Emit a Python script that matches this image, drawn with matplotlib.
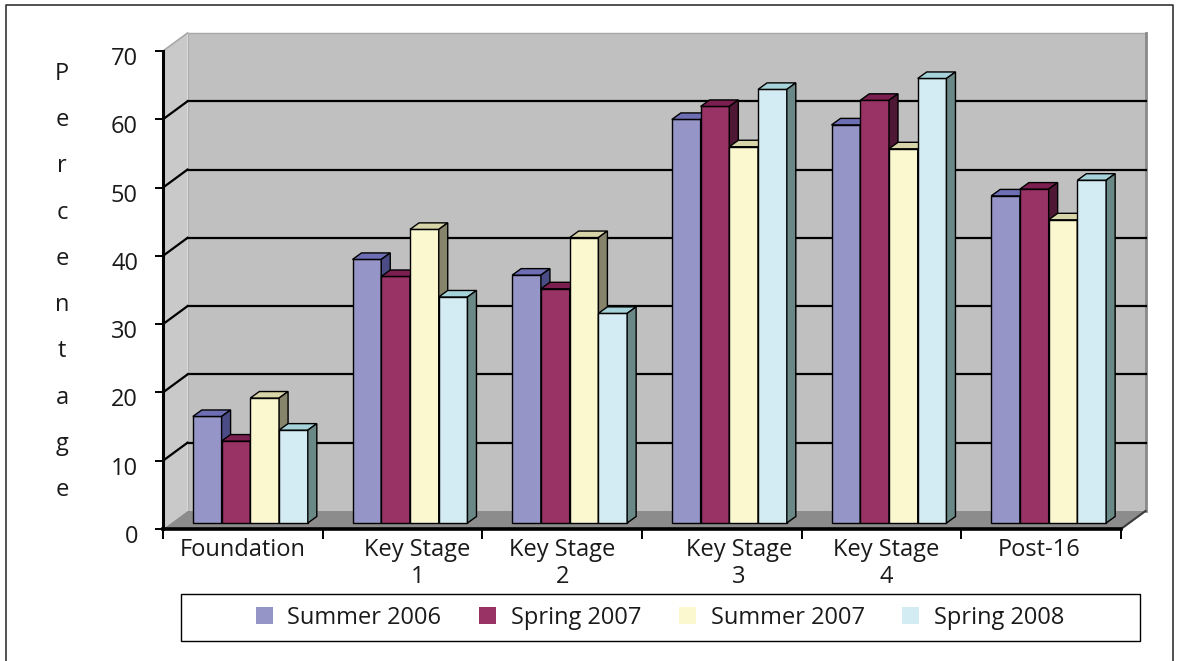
import matplotlib
matplotlib.use("Agg")
import matplotlib.pyplot as plt
from matplotlib.patches import Polygon, Rectangle, Patch
from matplotlib.lines import Line2D
from matplotlib.transforms import Affine2D, IdentityTransform

# ---------------- data ----------------
categories = ["Foundation", "Key Stage\n1", "Key Stage\n2", "Key Stage\n3", "Key Stage\n4", "Post-16"]
series_names = ["Summer 2006", "Spring 2007", "Summer 2007", "Spring 2008"]
summer_2006 = [15.6, 38.6, 36.3, 59.1, 58.3, 47.9]
spring_2007 = [12.0, 36.1, 34.3, 61.0, 61.9, 48.9]
summer_2007 = [18.3, 43.0, 41.8, 55.1, 54.8, 44.4]
spring_2008 = [13.6, 33.1, 30.7, 63.5, 65.1, 50.2]
y_ticks = [0, 10, 20, 30, 40, 50, 60, 70]
y_label = "Percentage"

series_values = [summer_2006, spring_2007, summer_2007, spring_2008]

# ---------------- style ----------------
front_colors = ["#9595C8", "#993366", "#FBF8D0", "#D3ECF3"]
top_colors = ["#6E6EB4", "#7A1F4F", "#D8D5A8", "#A6D3D9"]
side_colors = ["#4B4B85", "#4E1733", "#86846A", "#6A8886"]
FONT = "Open Sans"
FS = 17

W, H = 1178, 661
fig = plt.figure(figsize=(W / 100, H / 100), dpi=100)
ax = fig.add_axes([163 / W, 1 - 529 / H, (1121 - 163) / W, (529 - 51) / H])
ax.set_xlim(-0.5, len(categories) - 0.5)
ax.set_ylim(y_ticks[0], y_ticks[-1])
ax.patch.set_visible(False)
for s in ["top", "right"]:
    ax.spines[s].set_visible(False)
ax.spines["left"].set_linewidth(2.2)
ax.spines["bottom"].set_linewidth(2.6)
ax.spines["left"].set_zorder(6)
ax.spines["bottom"].set_zorder(6)

DEPTH = (24.5, 18.0)      # full depth offset (display px)
BAR_FRONT = (7.5, 6.0)    # bar front plane offset
BAR_BACK = (16.5, 12.5)   # bar back plane offset
x0, x1 = ax.get_xlim()
y0, y1 = ax.get_ylim()


def P(x, y, off=(0, 0)):
    X, Y = ax.transData.transform((x, y))
    return (X + off[0], Y + off[1])


def poly(pts, fc, ec="none", lw=0.0, z=1):
    p = Polygon(pts, closed=True, facecolor=fc, edgecolor=ec, linewidth=lw,
                transform=IdentityTransform(), zorder=z, clip_on=False)
    ax.add_artist(p)
    return p


def seg(a, b, color="black", lw=1.0, z=1):
    ln = Line2D([a[0], b[0]], [a[1], b[1]], color=color, linewidth=lw,
                transform=IdentityTransform(), zorder=z, clip_on=False)
    ax.add_artist(ln)


# walls
poly([P(x0, y0, DEPTH), P(x1, y0, DEPTH), P(x1, y1, DEPTH), P(x0, y1, DEPTH)], "#C0C0C0", z=0.5)
poly([P(x0, y0), P(x0, y0, DEPTH), P(x0, y1, DEPTH), P(x0, y1)], "#C9C9C9", z=0.6)
seg(P(x0, y1), P(x0, y1, DEPTH), color="#A8A8A8", lw=1.2, z=0.7)
seg(P(x0, y1, DEPTH), P(x1, y1, DEPTH), color="#A8A8A8", lw=1.0, z=0.7)
seg(P(x1, y0, DEPTH), P(x1, y1, DEPTH), color="#8A8A8A", lw=2.0, z=0.7)
seg(P(x0, y0, DEPTH), P(x0, y1, DEPTH), color="#B0B0B0", lw=1.0, z=0.7)
# floor
poly([P(x0, y0), P(x1, y0), P(x1, y0, DEPTH), P(x0, y0, DEPTH)], "#8C8C8C", z=0.8)
seg(P(x1, y0), P(x1, y0, DEPTH), color="#3A3A3A", lw=1.5, z=0.9)
# gridlines
for v in y_ticks[1:-1]:
    seg(P(x0, v), P(x0, v, DEPTH), color="black", lw=1.6, z=1)
    seg(P(x0, v, DEPTH), P(x1, v, DEPTH), color="black", lw=1.6, z=1)

# bars
n = len(series_values)
bw = 0.18
z = 2
for c in range(len(categories)):
    for i in range(n):
        v = series_values[i][c]
        xl = c - bw * n / 2 + i * bw
        xr = xl + bw
        poly([P(xl, 0, BAR_FRONT), P(xr, 0, BAR_FRONT), P(xr, v, BAR_FRONT), P(xl, v, BAR_FRONT)],
             front_colors[i], ec="black", lw=1.0, z=z)
        poly([P(xl, v, BAR_FRONT), P(xr, v, BAR_FRONT), P(xr, v, BAR_BACK), P(xl, v, BAR_BACK)],
             top_colors[i], ec="black", lw=1.0, z=z)
        poly([P(xr, 0, BAR_FRONT), P(xr, 0, BAR_BACK), P(xr, v, BAR_BACK), P(xr, v, BAR_FRONT)],
             side_colors[i], ec="black", lw=1.0, z=z)
        z += 0.01

# axes ticks
ax.set_yticks(y_ticks)
ax.set_yticklabels([str(t) for t in y_ticks], fontsize=FS, family=FONT, color="#1a1a1a")
ax.tick_params(axis="y", length=6, width=1.4, direction="out", pad=12, color="black")
for lab in ax.get_yticklabels():
    lab.set_transform(lab.get_transform() + Affine2D().translate(0, -5))
ax.set_xticks([c - 0.5 for c in range(len(categories) + 1)])
ax.set_xticklabels([])
ax.tick_params(axis="x", length=7, width=1.4, direction="out", color="black")

label_dx = [0, 15, 0, 17, 5, -2]
for c, name in enumerate(categories):
    ax.text(c, 0, name, ha="center", va="top", fontsize=FS, family=FONT, color="#1a1a1a",
            linespacing=1.15,
            transform=ax.transData + Affine2D().translate(label_dx[c], -9))

# y label as stacked letters
fig.text(62 / W, 1 - 282 / H, "\n".join(y_label), ha="center", va="center",
         fontsize=FS, family=FONT, color="#1a1a1a", linespacing=2.24)

# legend
handles = [Patch(facecolor=front_colors[i], edgecolor="none") for i in range(n)]
fig.legend(handles, series_names, ncol=4, loc="center",
           bbox_to_anchor=(660 / W, 1 - 617.5 / H), frameon=False,
           prop={"family": FONT, "size": FS}, handlelength=0.72, handleheight=0.72,
           handletextpad=0.62, columnspacing=1.6, labelcolor="#1a1a1a")
fig.add_artist(Rectangle((181 / W, 1 - 641 / H), (1140 - 181) / W, (641 - 594) / H,
                         transform=fig.transFigure, fill=False, edgecolor="black", linewidth=1.0))

# outer border (open at bottom)
fig.add_artist(Line2D([6 / W, 6 / W, 1173 / W, 1173 / W], [0, 1 - 5 / H, 1 - 5 / H, 0],
                      transform=fig.transFigure, color="#333333", linewidth=1.2))

fig.savefig("out.png", dpi=100)
